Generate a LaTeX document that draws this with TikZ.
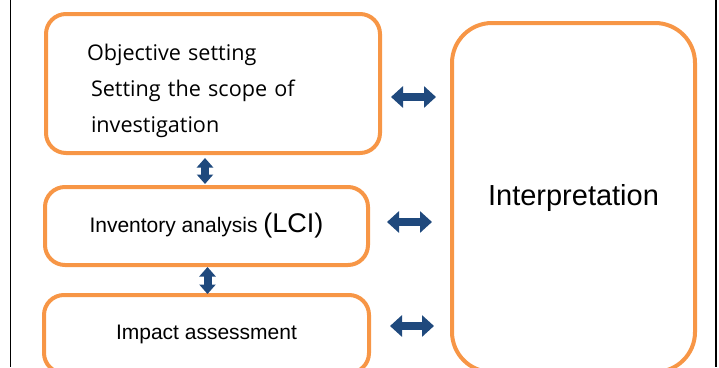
\documentclass[tikz,border=0pt]{standalone}
\usepackage{fontspec}
\setmainfont{Liberation Sans}
\newfontfamily\goalfont{Open Sans}
\usetikzlibrary{arrows.meta}
\definecolor{boxorange}{RGB}{247,150,70}
\definecolor{arrowblue}{RGB}{31,73,125}

\begin{document}
\begin{tikzpicture}[x=1pt,y=-1pt,
        stage box/.style={draw=boxorange,line width=4pt,rounded corners=20pt,inner sep=0pt,
          font=\fontsize{21}{25}\selectfont},
        link/.style={draw=arrowblue,line width=8pt,
          {Triangle[length=12pt,width=21pt]}-{Triangle[length=12pt,width=21pt]}},
        short link/.style={draw=arrowblue,line width=8pt,
          {Triangle[length=9.5pt,width=16pt]}-{Triangle[length=9.5pt,width=16pt]}},
        frame/.style={draw=black,line width=1.4pt}
      ]
      \useasboundingbox (0,0) rectangle (719,367);
      \clip (0,0) rectangle (719,367);

      % outer frame sides
      \draw[frame] (10.5,0) -- (10.5,367);
      \draw[frame] (716,0) -- (716,367);

      % the four stages
      \node[stage box,minimum width=334pt,minimum height=139pt,align=left,text width=252pt,
        inner xsep=41pt,font=\goalfont\fontsize{21.6}{36}\selectfont] (goal) at (213,83.5)
        {\rule{0pt}{31pt}Objective setting\\
         \hspace*{4pt}Setting the scope of\\
         \hspace*{4pt}investigation};
      \node[stage box,minimum width=323pt,minimum height=78pt] (inventory) at (206.5,226)
        {Inventory analysis {\fontsize{27}{30}\selectfont(LCI)}};
      \node[stage box,minimum width=325pt,minimum height=78pt] (impact) at (206.5,334)
        {Impact assessment};
      \node[stage box,rounded corners=40pt,minimum width=243pt,minimum height=349pt,
        font=\fontsize{29}{34}\selectfont] (interp) at (573.5,197.5) {Interpretation};

      % links to interpretation
      \coordinate (h1) at ([yshift=-13.5pt]goal.east);
      \coordinate (h2) at ([yshift=4pt]inventory.east);
      \coordinate (h3) at ([yshift=8pt]impact.east);
      \draw[link,shorten <=9pt,shorten >=14pt] (h1) -- (h1 -| interp.west);
      \draw[link,shorten <=17pt,shorten >=18pt] (h2) -- (h2 -| interp.west);
      \draw[link,shorten <=19pt,shorten >=16pt] (h3) -- (h3 -| interp.west);

      % links between stages
      \coordinate (v1) at ([xshift=-1.5pt]inventory.north);
      \coordinate (v2) at ([xshift=1pt]impact.north);
      \draw[short link,shorten <=1pt,shorten >=3pt] (v1) -- (v1 |- goal.south);
      \draw[short link,shorten <=-1pt,shorten >=0pt] (v2) -- (v2 |- inventory.south);
    \end{tikzpicture}
\end{document}
